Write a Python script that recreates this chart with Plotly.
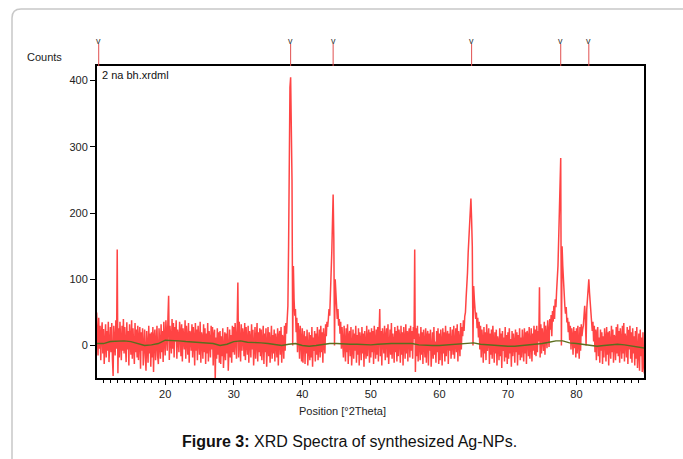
import numpy as np
import plotly.graph_objects as go

# ---- data ----
two_theta_start = 10.0
two_theta_step = 0.1
counts = [
    50, 20, -15, 42, -5, 30, -22, 18, 35, -12, 25, -28, 8, 32, -18, 22, -8, 36, -25, 15,            # 10.0-11.9
    28, -10, 34, -20, -46, 30, 12, -15, 38, -5, 145, -42, 26, -18, 36, 5, -22, 30, -8, 40,          # 12.0-13.9
    -12, 28, 10, -25, 35, -6, 22, -30, 32, 15, -14, 38, -20, 26, 4, -28, 34, -10, 24, -18,          # 14.0-15.9
    30, -22, 12, 28, -35, 20, -8, 26, -30, 16, 24, -15, -38, 22, 6, -26, 30, -12, 18, -32,          # 16.0-17.9
    20, -18, 28, -40, 14, 24, -22, 10, 30, -16, -28, 26, 8, -20, 32, -10, 22, -25, 36, 12,          # 18.0-19.9
    -15, 38, 18, -8, 42, 75, -22, 30, 10, -12, 40, -5, 34, -18, 28, 6, 38, -20, 24, 14,             # 20.0-21.9
    -10, 36, 20, -16, 32, -24, 26, 12, -6, 38, -20, 30, 8, -14, 34, -26, 22, 16, -8, 32,            # 22.0-23.9
    -18, 28, 10, -30, 34, -8, 24, -22, 30, 4, -14, 36, -26, 20, 12, -20, 32, -10, 26, -28,          # 24.0-25.9
    18, -12, 34, -24, 22, 8, -18, 30, -6, 28, -30, 16, 24, -52, 12, -20, 26, -14, 20, -26,          # 26.0-27.9
    22, -28, 14, -16, 26, -34, 10, 20, -22, 18, -12, 28, -38, 12, 24, -18, 16, -26, 30, -10,        # 28.0-29.9
    28, -14, 34, 12, -20, 30, 95, -18, 36, 6, -24, 32, -8, 26, 14, -16, 34, -22, 28, 4,             # 30.0-31.9
    -14, 30, -26, 22, 10, -18, 32, -6, 24, -30, 16, 28, -20, 12, 34, -24, 20, -10, 26, -16,         # 32.0-33.9
    24, -22, 14, 30, -28, 18, -10, 26, -32, 12, 28, -16, 20, -26, 8, 30, -20, 16, -12, 24,          # 34.0-35.9
    -24, 18, 6, -18, 26, -30, 14, 22, -14, 28, -26, 16, 10, -20, 30, -8, 34, 18, 40, 60,            # 36.0-37.9
    150, 300, 390, 405, 340, 250, 0, 120, 70, 45, 55, 20, 42, -10, 34, 18, -20, 30, 8, -24,         # 38.0-39.9
    26, -26, 10, 22, -28, 14, -12, 24, -30, 6, 20, -22, 16, -18, 28, -32, 12, -8, 22, -24,          # 40.0-41.9
    18, -14, 28, -22, 10, 24, -18, 30, -10, 20, -26, 26, 4, -12, 32, 14, 36, 28, 40, 55,            # 42.0-43.9
    45, 70, 100, 140, 185, 228, 160, 0, 100, 70, 60, 40, 55, 30, 40, 18, 36, -5, 28, 12,            # 44.0-45.9
    -18, 30, 6, -24, 26, -10, 32, -28, 14, 22, -16, 28, -30, 10, 24, -20, 18, -8, 30, -26,          # 46.0-47.9
    16, -14, 26, -30, 20, 8, -22, 28, -12, 18, -32, 22, 6, -20, 30, -16, 12, 24, -26, 20,           # 48.0-49.9
    -18, 26, -10, 22, -28, 30, 4, -20, 24, -14, 28, -24, 18, 55, -16, 22, -30, 26, 8, -12,          # 50.0-51.9
    30, -22, 14, 26, -18, 32, -28, 10, 24, -14, 34, -20, 18, 6, -26, 28, -10, 22, -24, 30,          # 52.0-53.9
    -16, 24, 12, -26, 30, -14, 20, -30, 28, 8, -20, 32, -12, 22, -24, 16, 26, -18, 30, -8,          # 54.0-55.9
    22, -20, 28, 10, 145, -40, 26, -16, 30, -24, 18, 6, -22, 28, -14, 20, -28, 24, 10, -18,         # 56.0-57.9
    26, -26, 14, 22, -30, 18, -8, 24, -32, 12, 20, -20, 28, -14, 6, -26, 22, -10, 26, -28,          # 58.0-59.9
    18, -22, 24, 4, -30, 26, -12, 20, -24, 30, -16, 14, 22, -28, 18, -8, 28, -20, 12, 24,           # 60.0-61.9
    -14, 30, -20, 16, 26, -10, 32, -24, 22, 8, -16, 34, -6, 28, 14, 38, 22, 44, 50, 72,             # 62.0-63.9
    85, 110, 140, 165, 185, 205, 222, 190, 150, 0, 90, 70, 55, 40, 50, 26, 42, 12, 36, -6,          # 64.0-65.9
    30, -18, 24, 8, -26, 28, -12, 20, -22, 32, -8, 16, 26, -28, 18, -14, 24, -20, 30, 4,            # 66.0-67.9
    -26, 20, -12, 24, -30, 14, 6, -22, 26, -16, 18, -34, 22, -8, 12, -24, 28, -18, 16, -28,         # 68.0-69.9
    20, -20, 26, -12, 10, -32, 22, -16, 18, 4, -26, 24, -10, 20, -30, 16, -14, 26, -22, 12,         # 70.0-71.9
    -18, 24, 8, -24, 26, -12, 20, -28, 22, 14, -16, 28, -20, 10, 26, -24, 18, -8, 30, -14,          # 72.0-73.9
    24, -16, 30, -10, 22, 6, 88, -18, 32, -12, 26, 10, -8, 36, -14, 30, 16, -4, 38, 20,             # 74.0-75.9
    -2, 40, 24, 46, 14, 52, 36, 60, 40, 70, 58, 82, 95, 120, 160, 205, 245, 283, 0, 150,            # 76.0-77.9
    120, 90, 75, 60, 48, 58, 35, 42, 20, 36, 8, 30, -6, 26, 14, -14, 28, -4, 22, -18,               # 78.0-79.9
    26, -12, 30, 6, -20, 28, -8, 32, 14, 24, 30, 45, 60, 40, 0, 55, 75, 90, 100, 80,                # 80.0-81.9
    65, 50, 40, 22, 36, 6, 30, -10, 24, -22, 18, 28, -16, 12, -26, 24, -8, 20, -28, 14,             # 82.0-83.9
    -18, 26, 10, -24, 28, -14, 20, -30, 22, 6, -20, 30, -10, 24, -26, 16, 12, -22, 28, -12,         # 84.0-85.9
    32, -16, 22, -26, 26, 8, -20, 30, -12, 34, -24, 18, 10, -18, 28, -28, 24, -6, 30, -20,          # 86.0-87.9
    20, -26, 26, -12, 14, -30, 22, -20, 28, -34, 10, 18, -38, 24, -16, 12, -40, 20, -30, -42,       # 88.0-89.9
    -20,                                                                                              # 90.0
]

background_x = list(range(10, 91))
background = [3, 3, 6, 7, 7, 6, 3, 0, 1, 3,
              8, 8, 7, 6, 5, 5, 4, 3, 0, 2,
              6, 7, 5, 5, 4, 3, 1, 0, 2, 3,
              0, -1, 0, 2, 3, 3, 2, 2, 2, 1,
              1, 2, 3, 3, 3, 3, 3, 1, 0, 0,
              0, 1, 2, 3, 4, 4, 2, 1, 0, -1,
              -1, -1, 0, 0, 1, 3, 5, 7, 7, 4,
              3, 2, 1, -1, 0, 1, 2, 1, -1, -3, -4]

peak_markers = [10.3, 38.3, 44.5, 64.7, 77.7, 81.8]

y_ticks = [0, 100, 200, 300, 400]

two_theta = np.round(two_theta_start + two_theta_step * np.arange(len(counts)), 2)

FONT = "Arial, Liberation Sans, sans-serif"

fig = go.Figure()
fig.add_trace(go.Scatter(x=two_theta, y=counts, mode="lines",
                         line=dict(color="#ff4444", width=1.5),
                         hoverinfo="skip", showlegend=False))
fig.add_trace(go.Scatter(x=background_x, y=background, mode="lines",
                         line=dict(color="#5b6e1e", width=1.4),
                         hoverinfo="skip", showlegend=False))

# plot area geometry (px): left 97, right 644, top 66, bottom 378
W, H = 683, 459
L, R, T, B = 97, 644, 66, 378
pw, ph = R - L, B - T

def px_x(px):
    return (px - L) / pw

def px_y(py):
    return (B - py) / ph

shapes = []
annotations = []
for m in peak_markers:
    shapes.append(dict(type="line", xref="x", yref="paper", x0=m, x1=m,
                       y0=1.0, y1=px_y(44), line=dict(color="#e05050", width=1)))
    annotations.append(dict(x=m, y=px_y(41), xref="x", yref="paper", text="v",
                            showarrow=False, font=dict(family=FONT, size=9, color="#333"),
                            xanchor="center", yanchor="middle"))

# outer rounded frame
x0, y0 = px_x(12), px_y(9)
xr, yb = px_x(700), px_y(480)
rx, ry = 9 / pw, 9 / ph
path = (f"M {x0},{yb} L {x0},{y0 - ry} Q {x0},{y0} {x0 + rx},{y0} L {xr},{y0}")
shapes.append(dict(type="path", xref="paper", yref="paper", path=path,
                   line=dict(color="#c8c8c8", width=1.5)))

annotations += [
    dict(x=px_x(64), y=px_y(57), xref="paper", yref="paper", text="Counts",
         showarrow=False, xanchor="right", yanchor="middle",
         font=dict(family=FONT, size=11, color="#222")),
    dict(x=px_x(100), y=px_y(67), xref="paper", yref="paper", text="2 na bh.xrdml",
         showarrow=False, xanchor="left", yanchor="top",
         font=dict(family=FONT, size=11, color="#111")),
    dict(x=px_x(342), y=px_y(411), xref="paper", yref="paper", text="Position [°2Theta]",
         showarrow=False, xanchor="center", yanchor="middle",
         font=dict(family=FONT, size=11, color="#222")),
    dict(x=px_x(349), y=px_y(441), xref="paper", yref="paper",
         text="<b>Figure 3:</b> XRD Spectra of synthesized Ag-NPs.",
         showarrow=False, xanchor="center", yanchor="middle",
         font=dict(family=FONT, size=16, color="#111")),
]

fig.update_layout(
    width=W, height=H,
    margin=dict(l=L, r=W - R, t=T, b=H - B, pad=0),
    paper_bgcolor="white", plot_bgcolor="white",
    shapes=shapes, annotations=annotations,
    font=dict(family=FONT, size=11, color="#222"),
)
fig.update_xaxes(range=[10.05, 89.85], showgrid=False, zeroline=False,
                 showline=True, mirror=True, linecolor="black", linewidth=2,
                 ticks="outside", ticklen=5, tickcolor="black", tickwidth=1,
                 dtick=10, tick0=0,
                 minor=dict(dtick=1, tick0=0, ticks="outside", ticklen=3,
                            tickcolor="black", showgrid=False),
                 tickfont=dict(family=FONT, size=11, color="#222"))
fig.update_yaxes(range=[-49, 422], showgrid=False, zeroline=False,
                 showline=True, mirror=True, linecolor="black", linewidth=2,
                 ticks="outside", ticklen=5, tickcolor="black", tickwidth=1,
                 tickvals=y_ticks, ticktext=[str(v) for v in y_ticks],
                 tickfont=dict(family=FONT, size=11, color="#222"))

fig.write_html("out.html", config={"displayModeBar": False},
               post_script="document.body.style.margin='0';document.body.style.overflow='hidden';")
